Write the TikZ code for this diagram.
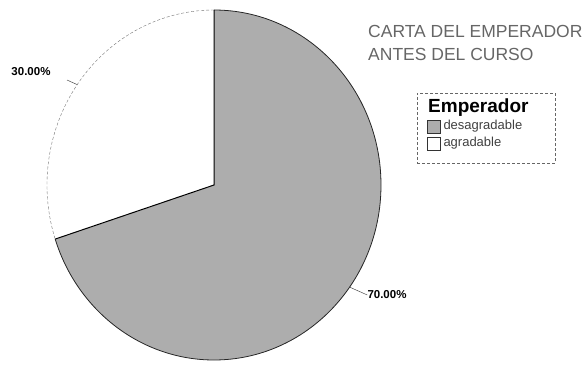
\documentclass[tikz,border=0pt]{standalone}
\usepackage{fontspec}
\setmainfont{Liberation Sans}
\usetikzlibrary{calc}
\begin{document}
\begin{tikzpicture}[x=1pt,y=1pt,
  slicefill/.style={fill=black!32},
  pctlabel/.style={font=\fontsize{11.5}{12}\selectfont\bfseries, inner sep=0pt},
  leader/.style={draw=black!70, line width=0.5pt},
  titletext/.style={font=\fontsize{17.5}{23}\selectfont, text=black!60, align=left, inner sep=0pt, anchor=north west},
  legtext/.style={font=\fontsize{13}{14}\selectfont, text=black!75, inner sep=0pt, anchor=west},
  swatch/.style={draw=black!80, line width=0.6pt}]
\useasboundingbox (0,0) rectangle (587,365);
\coordinate (c) at (214,180);
\coordinate (top) at (214,355);
% grey 70% slice
\path[slicefill] (c) -- (top) arc[start angle=90, end angle=-162, x radius=167, y radius=175] -- cycle;
% white 30% slice
\path[fill=white] (c) -- (top) arc[start angle=90, end angle=198, x radius=167, y radius=175] -- cycle;
\draw[black!85, line width=0.8pt] (top) arc[start angle=90, end angle=-162, x radius=167, y radius=175];
\draw[black!55, line width=0.4pt, densely dashed] (top) arc[start angle=90, end angle=198, x radius=167, y radius=175];
\coordinate (edgeL) at ($(c)+(198:167 and 175)$);
\draw[black, line width=1pt] (top) -- (c) -- (edgeL);
% percentage labels
\node[pctlabel] (p30) at (31,293) {30.00\%};
\node[pctlabel] (p70) at (387,70) {70.00\%};
\coordinate (l30a) at (67,285);
\coordinate (l30b) at ($(c)+(145:167 and 175)$);
\coordinate (l70b) at ($(c)+(-35.7:167 and 175)$);
\draw[leader] (l30a) -- (l30b);
\draw[leader] (l70b) -- (p70.west);
% title
\node[titletext] (title) at (368,340) {CARTA DEL EMPERADOR\\ANTES DEL CURSO};
% legend
\node[draw=black!60, densely dashed, line width=0.4pt, minimum width=138pt, minimum height=70pt, inner sep=0pt] (legbox) at (486,237) {};
\node[font=\fontsize{19}{20}\selectfont\bfseries, inner sep=0pt, anchor=base west] (legtitle) at (428,252) {Emperador};
\node[swatch, fill=black!32, minimum width=13pt, minimum height=13pt, inner sep=0pt] (sw1) at (433.5,238.5) {};
\node[swatch, fill=white, minimum width=13pt, minimum height=13pt, inner sep=0pt] (sw2) at (433.5,221.5) {};
\node[legtext] (lt1) at ([xshift=3pt]sw1.east) {desagradable};
\node[legtext] (lt2) at ([xshift=3pt]sw2.east) {agradable};
\end{tikzpicture}
\end{document}
